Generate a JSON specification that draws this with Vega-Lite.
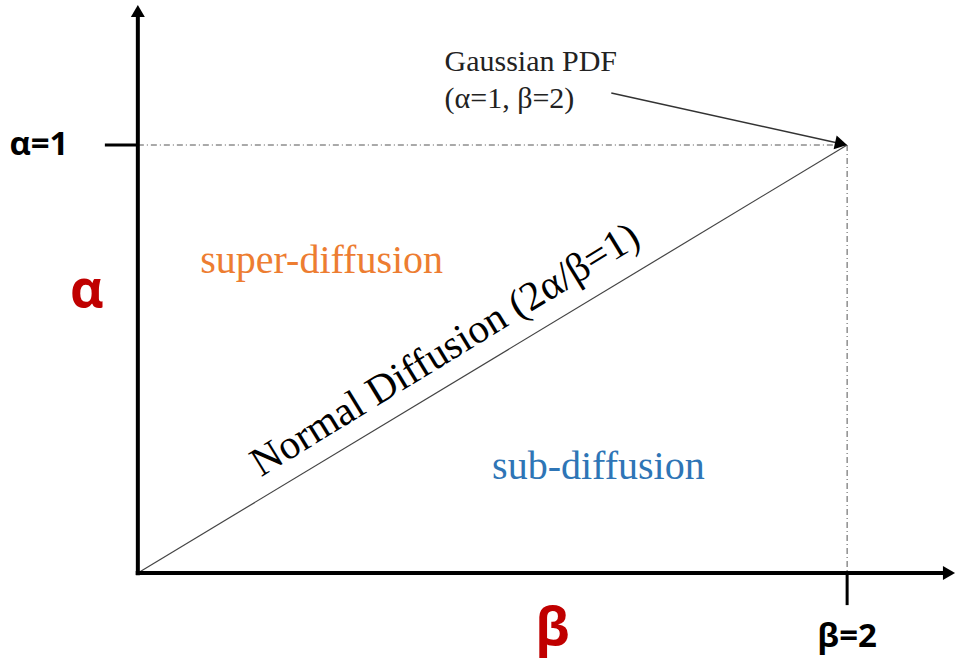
{
  "$schema": "https://vega.github.io/schema/vega-lite/v6.json",
  "width": 956,
  "height": 664,
  "autosize": {"type": "fit", "contains": "padding"},
  "padding": 0,
  "background": "white",
  "config": {"view": {"stroke": null}},
  "datasets": {
    "axes": [
      {"x": -0.006, "y": 0, "x2": 2.2817, "y2": 0},
      {"x": 0, "y": -0.005, "x2": 0, "y2": 1.313}
    ],
    "ticks": [
      {"x": -0.093, "y": 1, "x2": 0, "y2": 1},
      {"x": 2, "y": -0.075, "x2": 2, "y2": 0}
    ],
    "guides": [
      {"x": 0, "y": 1, "x2": 2, "y2": 1},
      {"x": 2, "y": 1, "x2": 2, "y2": 0}
    ],
    "diag": [{"x": 0, "y": 0, "x2": 2, "y2": 1}],
    "pointer": [{"x": 1.335, "y": 1.1215, "x2": 1.983, "y2": 1.003}],
    "upArrow": [{"x": 0, "y": 1.3131}],
    "rightArrow": [{"x": 2.2873, "y": 0}],
    "pointerHead": [{"x": 1.9831, "y": 1.003}],
    "note": [
      {"x": 0.8648, "y": 1.1729, "label": "Gaussian PDF"},
      {"x": 0.8648, "y": 1.0864, "label": "(α=1, β=2)"}
    ],
    "ticklabels": [
      {"x": -0.2789, "y": 0.9766, "label": "α=1"},
      {"x": 2, "y": -0.1729, "label": "β=2"}
    ],
    "axisnames": [
      {"x": -0.1437, "y": 0.6222, "label": "α"},
      {"x": 1.169, "y": -0.1682, "label": "β"}
    ],
    "super": [{"x": 0.5183, "y": 0.7017, "label": "super-diffusion"}],
    "sub": [{"x": 1.2986, "y": 0.2196, "label": "sub-diffusion"}],
    "normal": [{"x": 0.885, "y": 0.4965, "label": "Normal Diffusion (2α/β=1)"}]
  },
  "encoding": {
    "x": {"field": "x", "type": "quantitative", "scale": {"domain": [-0.3887, 2.3042], "nice": false, "zero": false}, "axis": null},
    "y": {"field": "y", "type": "quantitative", "scale": {"domain": [-0.2126, 1.3388], "nice": false, "zero": false}, "axis": null}
  },
  "layer": [
    {
      "data": {"name": "guides"},
      "mark": {"type": "rule", "stroke": "#555555", "strokeWidth": 1, "strokeDash": [6, 3, 1, 3]},
      "encoding": {"x2": {"field": "x2"}, "y2": {"field": "y2"}}
    },
    {
      "data": {"name": "diag"},
      "mark": {"type": "rule", "stroke": "#444444", "strokeWidth": 1.2},
      "encoding": {"x2": {"field": "x2"}, "y2": {"field": "y2"}}
    },
    {
      "data": {"name": "pointer"},
      "mark": {"type": "rule", "stroke": "#333333", "strokeWidth": 1.5},
      "encoding": {"x2": {"field": "x2"}, "y2": {"field": "y2"}}
    },
    {
      "data": {"name": "pointerHead"},
      "mark": {"type": "point", "shape": "triangle-right", "filled": true, "color": "black", "opacity": 1, "size": 200, "angle": 12.4}
    },
    {
      "data": {"name": "axes"},
      "mark": {"type": "rule", "stroke": "black", "strokeWidth": 4},
      "encoding": {"x2": {"field": "x2"}, "y2": {"field": "y2"}}
    },
    {
      "data": {"name": "ticks"},
      "mark": {"type": "rule", "stroke": "black", "strokeWidth": 3},
      "encoding": {"x2": {"field": "x2"}, "y2": {"field": "y2"}}
    },
    {
      "data": {"name": "upArrow"},
      "mark": {"type": "point", "shape": "triangle-up", "filled": true, "color": "black", "opacity": 1, "size": 196}
    },
    {
      "data": {"name": "rightArrow"},
      "mark": {"type": "point", "shape": "triangle-right", "filled": true, "color": "black", "opacity": 1, "size": 196}
    },
    {
      "data": {"name": "note"},
      "mark": {"type": "text", "font": "Liberation Serif", "fontSize": 30, "color": "#222222", "align": "left", "baseline": "alphabetic"},
      "encoding": {"text": {"field": "label"}}
    },
    {
      "data": {"name": "ticklabels"},
      "mark": {"type": "text", "font": "Open Sans", "fontWeight": "bold", "fontSize": 33, "color": "black", "align": "center", "baseline": "alphabetic"},
      "encoding": {"text": {"field": "label"}}
    },
    {
      "data": {"name": "axisnames"},
      "mark": {"type": "text", "font": "Open Sans", "fontWeight": "bold", "fontSize": 52, "color": "#C00000", "align": "center", "baseline": "alphabetic"},
      "encoding": {"text": {"field": "label"}}
    },
    {
      "data": {"name": "super"},
      "mark": {"type": "text", "font": "Liberation Serif", "fontSize": 40, "color": "#ED7D31", "align": "center", "baseline": "alphabetic"},
      "encoding": {"text": {"field": "label"}}
    },
    {
      "data": {"name": "sub"},
      "mark": {"type": "text", "font": "Liberation Serif", "fontSize": 40, "color": "#2E75B6", "align": "center", "baseline": "alphabetic"},
      "encoding": {"text": {"field": "label"}}
    },
    {
      "data": {"name": "normal"},
      "mark": {"type": "text", "font": "Liberation Serif", "fontSize": 41, "color": "black", "align": "center", "baseline": "alphabetic", "angle": -31.5},
      "encoding": {"text": {"field": "label"}}
    }
  ]
}
